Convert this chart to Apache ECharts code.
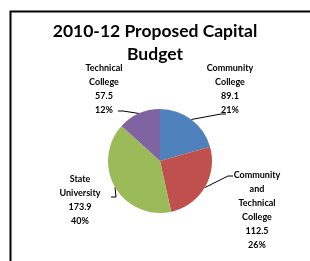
<!DOCTYPE html>
<html>
<head>
<meta charset="UTF-8">
<title>2010-12 Proposed Capital Budget</title>
<script src="https://cdn.jsdelivr.net/npm/echarts@6/dist/echarts.min.js"></script>
<style>
  html, body { margin: 0; padding: 0; background: #fff; }
  #main { width: 310px; height: 261px; }
</style>
</head>
<body>
<div id="main"></div>
<script>
// data
var names = ['Community\nCollege', 'Community\nand\nTechnical\nCollege', 'State\nUniversity', 'Technical\nCollege'];
var values = [89.1, 112.5, 173.9, 57.5];
var pctLabels = ['21%', '26%', '40%', '12%'];
var colors = ['#4F81BD', '#C0504D', '#9BBB59', '#8064A2'];

// label spots: center x, top y, then where the leader line meets the text (relative)
var labelPos = [[230, 61], [257, 168], [80, 172], [104, 61]];
var lineEnd = [[-4, 53], [-24, 8], [31, 25], [14, 50]];

var chart = echarts.init(document.getElementById('main'));

var pieData = values.map(function (v, i) {
    return { name: names[i], value: v, itemStyle: { color: colors[i] } };
});

var option = {
    backgroundColor: '#fff',
    animation: false,
    title: {
        text: '2010-12 Proposed Capital\nBudget',
        left: 'center',
        top: 15,
        textStyle: {
            fontFamily: 'Lato',
            fontWeight: 'bold',
            fontSize: 17.5,
            lineHeight: 23,
            color: '#000'
        }
    },
    graphic: [{
        type: 'rect',
        left: 8,
        top: 9,
        shape: { width: 330, height: 300 },
        style: { fill: 'none', stroke: '#000', lineWidth: 2 }
    }],
    series: [{
        type: 'pie',
        center: [160, 161],
        radius: 52,
        startAngle: 90,
        clockwise: true,
        data: pieData,
        label: {
            show: true,
            position: 'outside',
            fontFamily: 'Lato',
            fontWeight: 'bold',
            fontSize: 9,
            lineHeight: 14,
            color: '#000',
            align: 'center',
            formatter: function (p) {
                return p.name + '\n' + values[p.dataIndex] + '\n' + pctLabels[p.dataIndex];
            }
        },
        labelLine: {
            show: true,
            length: 8,
            length2: 8,
            lineStyle: { color: '#000', width: 1 }
        },
        labelLayout: function (params) {
            var i = params.dataIndex;
            var p = labelPos[i];
            var start = params.labelLinePoints[0];
            var end = [p[0] + lineEnd[i][0], p[1] + lineEnd[i][1]];
            var dir = end[0] > start[0] ? -1 : 1;
            var mid = [end[0] + dir * 5, end[1]];
            return {
                x: p[0], y: p[1], align: 'center', verticalAlign: 'top',
                labelLinePoints: [start, mid, end]
            };
        },
        emphasis: { disabled: true }
    }]
};

chart.setOption(option);
</script>
</body>
</html>
